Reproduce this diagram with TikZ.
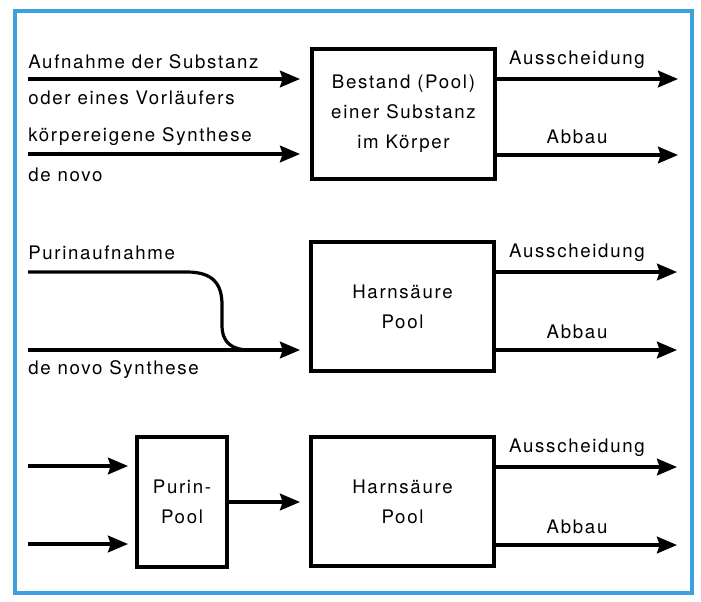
\documentclass[tikz,border=0pt]{standalone}
\usepackage{fontspec}
\setmainfont[LetterSpace=9]{TeX Gyre Heros}
\usetikzlibrary{arrows.meta}
\definecolor{framecol}{RGB}{60,160,225}
\begin{document}
\begin{tikzpicture}[x=0.75pt,y=-0.75pt,
  arr/.style={line width=2.4pt,-{Stealth[length=15pt,width=12.5pt,inset=2pt]}},
  plain/.style={line width=2.4pt},
  pool/.style={draw,line width=3.2pt,minimum width=137pt,minimum height=97pt,align=center,inner sep=0pt,font=\fontsize{14}{22.5}\selectfont},
  lbl/.style={font=\fontsize{14}{17}\selectfont,inner sep=0pt},
]
\useasboundingbox (0,0) rectangle (701,601);
\fill[white] (0,0) rectangle (701,601);
\draw[framecol,line width=3.5pt] (15,11) rectangle (692,593);

% ---- row 1
\node[pool] (b1) at (403.5,114) {Bestand (Pool)\\einer Substanz\\im Körper};
\node[lbl,anchor=west] (t1) at (28,62) {Aufnahme der Substanz};
\node[lbl,anchor=west] (t2) at (28,98) {oder eines Vorläufers};
\node[lbl,anchor=west] (t3) at (28,137) {körpereigene Synthese};
\node[lbl,anchor=west] (t4) at (28,175) {de novo};
\coordinate (s1a) at (28,79);  \coordinate (e1a) at (300,79);
\coordinate (s1b) at (28,154); \coordinate (e1b) at (300,154);
\draw[arr] (s1a) -- (e1a);
\draw[arr] (s1b) -- (e1b);
\coordinate (o1a) at (678,79); \coordinate (o1b) at (678,155);
\draw[arr] (b1.east |- o1a) -- (o1a);
\draw[arr] (b1.east |- o1b) -- (o1b);
\node[lbl] (l1a) at (577,60) {Ausscheidung};
\node[lbl] (l1b) at (577,137) {Abbau};

% ---- row 2
\node[pool] (b2) at (402.5,306.5) {Harnsäure\\Pool};
\node[lbl,anchor=west] (t5) at (28,253) {Purinaufnahme};
\node[lbl,anchor=west] (t6) at (28,370) {de novo Synthese};
\coordinate (s2a) at (28,272);
\coordinate (s2b) at (28,350); \coordinate (e2) at (300,350);
\coordinate (j2) at (250,350);
\draw[plain] (s2a) -- (187,272) .. controls (214,272) and (222,285) .. (222,305)
  -- (222,325) .. controls (222,343) and (232,350) .. (j2);
\draw[arr] (s2b) -- (e2);
\coordinate (o2a) at (677,272); \coordinate (o2b) at (677,350);
\draw[arr] (b2.east |- o2a) -- (o2a);
\draw[arr] (b2.east |- o2b) -- (o2b);
\node[lbl] (l2a) at (577,253) {Ausscheidung};
\node[lbl] (l2b) at (577,332) {Abbau};

% ---- row 3
\node[pool,minimum width=67.5pt,minimum height=97.5pt] (pp) at (182,502) {Purin-\\Pool};
\node[pool] (b3) at (402.5,501.5) {Harnsäure\\Pool};
\coordinate (s3a) at (28,466); \coordinate (e3a) at (128,466);
\coordinate (s3b) at (28,544); \coordinate (e3b) at (128,544);
\draw[arr] (s3a) -- (e3a);
\draw[arr] (s3b) -- (e3b);
\coordinate (e3) at (300,502);
\draw[arr] (pp.east) -- (e3);
\coordinate (o3a) at (677,467); \coordinate (o3b) at (677,545);
\draw[arr] (b3.east |- o3a) -- (o3a);
\draw[arr] (b3.east |- o3b) -- (o3b);
\node[lbl] (l3a) at (577,448) {Ausscheidung};
\node[lbl] (l3b) at (577,527) {Abbau};
\end{tikzpicture}
\end{document}
